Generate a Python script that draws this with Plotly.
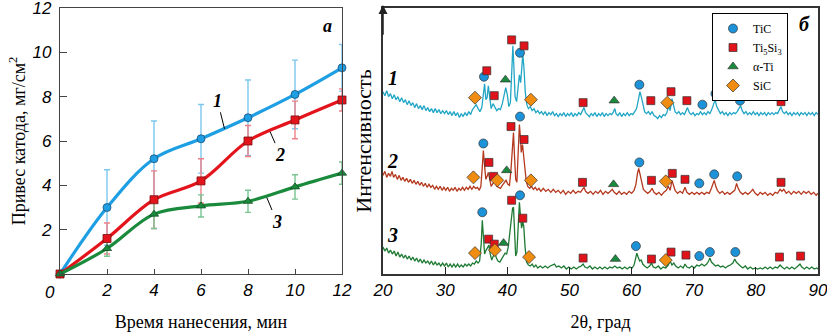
import plotly.graph_objects as go

# ---------------- Panel (a): cathode mass gain ----------------
time_min = [0, 2, 4, 6, 8, 10, 12]
mass_1 = [0, 3.0, 5.2, 6.1, 7.05, 8.1, 9.3]
err_1 = [0, 1.7, 1.7, 1.55, 1.7, 1.55, 1.05]
mass_2 = [0, 1.6, 3.35, 4.2, 6.0, 6.95, 7.85]
err_2 = [0, 0.7, 1.3, 1.0, 0.7, 0.85, 0.5]
mass_3 = [0, 1.15, 2.7, 3.07, 3.28, 3.93, 4.55]
err_3 = [0, 0.35, 0.65, 0.5, 0.5, 0.55, 0.5]
x_ticks_a = [2, 4, 6, 8, 10, 12]
y_ticks_a = [2, 4, 6, 8, 10, 12]

# ---------------- Panel (b): XRD patterns (2theta, intensity a.u.) ----------------
xrd_1 = [(20.0,183),(20.3,179),(20.6,184),(20.9,178),(21.2,181),(21.5,176),(21.8,180),(22.1,175),(22.4,178),(22.7,173),
 (23.0,177),(23.3,172),(23.6,175),(23.9,170),(24.2,174),(24.5,169),(24.8,172),(25.1,167),(25.4,171),(25.7,166),
 (26.0,169),(26.3,165),(26.6,169),(26.9,164),(27.2,167),(27.5,163),(27.8,166),(28.1,162),(28.4,166),(28.7,162),
 (29.0,165),(29.3,161),(29.6,164),(29.9,161),(30.2,164),(30.5,160),(30.8,163),(31.1,159),(31.4,163),(31.7,159),
 (32.0,162),(32.3,157),(32.6,161),(32.9,158),(33.2,162),(33.5,159),(33.8,163),(34.1,160),(34.4,165),(34.7,168),
 (35.0,170),(35.3,166),(35.6,163),(35.9,167),(36.15,182),(36.35,191),(36.55,175),(36.75,177),(36.95,189),(37.15,178),
 (37.4,166),(37.7,171),(38.0,168),(38.3,164),(38.6,166),(38.9,165),(39.2,171),(39.5,181),(39.75,187),(40.0,180),
 (40.25,168),(40.5,172),(40.75,205),(40.9,229),(41.05,210),(41.25,178),(41.5,173),(41.75,185),(41.95,200),(42.15,192),
 (42.35,212),(42.5,221),(42.7,205),(42.9,182),(43.15,170),(43.4,166),(43.7,168),(44.0,164),(44.3,166),(44.6,162),
 (44.9,164),(45.2,161),(45.5,163),(45.8,160),(46.1,163),(46.4,159),(46.7,162),(47.0,160),(47.3,163),(47.6,159),
 (47.9,161),(48.2,158),(48.5,161),(48.8,159),(49.1,162),(49.4,158),(49.7,161),(50.0,159),(50.3,162),(50.6,158),
 (50.9,161),(51.2,159),(51.5,162),(51.8,160),(52.1,164),(52.35,167),(52.6,162),(52.9,160),(53.2,158),(53.5,161),
 (53.8,159),(54.1,162),(54.4,158),(54.7,161),(55.0,159),(55.3,162),(55.6,158),(55.9,161),(56.2,159),(56.5,161),
 (56.8,160),(57.1,163),(57.3,166),(57.5,161),(57.8,159),(58.1,162),(58.4,158),(58.7,161),(59.0,159),(59.3,162),
 (59.6,159),(59.9,161),(60.2,160),(60.5,163),(60.8,166),(61.1,175),(61.35,183),(61.6,177),(61.85,168),(62.1,163),
 (62.4,161),(62.7,163),(63.0,160),(63.3,163),(63.6,159),(63.9,158),(64.2,156),(64.5,159),(64.8,157),(65.1,160),
 (65.4,159),(65.7,162),(65.95,169),(66.2,164),(66.5,176),(66.75,168),(67.0,163),(67.3,161),(67.6,163),(67.9,160),
 (68.2,162),(68.5,160),(68.8,164),(69.0,167),(69.3,162),(69.6,160),(69.9,162),(70.2,159),(70.5,161),(70.8,160),
 (71.1,163),(71.4,160),(71.7,162),(72.0,160),(72.3,163),(72.6,161),(72.9,165),(73.2,170),(73.45,175),(73.7,168),
 (74.0,164),(74.3,161),(74.6,163),(74.9,160),(75.2,162),(75.5,159),(75.8,162),(76.1,160),(76.4,162),(76.7,161),
 (77.0,163),(77.3,167),(77.55,169),(77.8,164),(78.1,161),(78.4,163),(78.7,160),(79.0,162),(79.3,160),(79.6,163),
 (79.9,160),(80.2,162),(80.5,159),(80.8,162),(81.1,160),(81.4,162),(81.7,159),(82.0,162),(82.3,160),(82.6,162),
 (82.9,160),(83.2,162),(83.5,161),(83.8,165),(84.05,168),(84.3,163),(84.6,161),(84.9,163),(85.2,160),(85.5,162),
 (85.8,159),(86.1,162),(86.4,160),(86.7,162),(87.0,159),(87.3,162),(87.6,160),(87.9,162),(88.2,159),(88.5,162),
 (88.8,160),(89.1,162),(89.4,159),(89.7,162),(90.0,160)]

xrd_2 = [(20.0,99),(20.3,103),(20.6,97),(20.9,101),(21.2,98),(21.45,103),(21.7,97),(22.0,100),(22.3,95),(22.6,99),
 (22.9,94),(23.2,97),(23.5,93),(23.8,96),(24.1,92),(24.4,95),(24.7,91),(25.0,94),(25.3,90),(25.6,93),
 (25.9,89),(26.2,92),(26.5,88),(26.8,91),(27.1,87),(27.4,90),(27.7,87),(28.0,89),(28.3,85),(28.6,88),
 (28.9,85),(29.2,88),(29.5,84),(29.8,87),(30.1,84),(30.4,87),(30.7,83),(31.0,86),(31.3,84),(31.6,87),
 (31.9,83),(32.2,86),(32.5,84),(32.8,87),(33.1,84),(33.4,87),(33.7,85),(34.0,88),(34.3,85),(34.6,88),
 (34.9,86),(35.2,87),(35.5,84),(35.75,88),(35.95,105),(36.15,124),(36.35,108),(36.55,95),(36.75,98),(36.95,102),
 (37.15,96),(37.4,88),(37.7,91),(38.0,93),(38.3,88),(38.6,87),(38.9,86),(39.2,89),(39.5,91),(39.8,94),
 (40.1,90),(40.35,89),(40.6,105),(40.85,135),(41.0,142),(41.15,120),(41.35,95),(41.55,92),(41.75,120),(41.95,150),
 (42.1,138),(42.25,122),(42.45,130),(42.65,118),(42.85,100),(43.05,93),(43.3,88),(43.6,86),(43.9,88),(44.2,85),
 (44.5,87),(44.8,84),(45.1,86),(45.4,83),(45.8,86),(46.2,83),(46.6,85),(47.0,82),(47.4,85),(47.8,82),
 (48.2,84),(48.6,81),(49.0,84),(49.4,80),(49.8,83),(50.2,81),(50.6,84),(51.0,81),(51.4,83),(51.8,82),
 (52.1,85),(52.35,87),(52.6,83),(53.0,81),(53.4,83),(53.8,80),(54.2,83),(54.6,81),(55.0,84),(55.4,80),
 (55.8,83),(56.2,81),(56.6,83),(56.9,85),(57.2,82),(57.6,80),(58.0,83),(58.4,80),(58.8,82),(59.2,80),
 (59.6,83),(60.0,81),(60.4,84),(60.7,90),(60.95,101),(61.15,106),(61.4,99),(61.65,90),(61.9,85),(62.2,83),
 (62.6,81),(63.0,83),(63.3,86),(63.6,82),(64.0,80),(64.4,82),(64.8,79),(65.2,82),(65.6,84),(65.9,88),
 (66.2,84),(66.5,94),(66.75,88),(67.0,84),(67.4,81),(67.8,83),(68.2,81),(68.6,87),(68.9,82),(69.3,80),
 (69.7,82),(70.1,80),(70.5,82),(70.9,80),(71.3,82),(71.7,80),(72.1,82),(72.5,81),(72.85,86),(73.1,92),
 (73.3,94),(73.55,88),(73.8,84),(74.2,81),(74.6,83),(75.0,80),(75.4,82),(75.8,80),(76.2,82),(76.6,84),
 (76.9,91),(77.15,86),(77.5,82),(77.9,80),(78.3,82),(78.7,80),(79.1,82),(79.5,85),(79.9,81),(80.3,79),
 (80.7,82),(81.1,80),(81.5,82),(81.9,79),(82.3,81),(82.7,79),(83.1,82),(83.5,81),(83.9,85),(84.2,83),
 (84.5,85),(84.9,81),(85.3,83),(85.7,80),(86.1,83),(86.5,81),(86.9,83),(87.3,80),(87.7,83),(88.1,81),
 (88.5,83),(88.9,80),(89.3,82),(89.7,79),(90.0,81)]

xrd_3 = [(20.0,27),(20.3,23),(20.6,26),(20.9,21),(21.2,24),(21.5,20),(21.8,23),(22.1,18),(22.4,22),(22.7,17),
 (23.0,20),(23.3,16),(23.6,19),(23.9,15),(24.2,18),(24.5,14),(24.8,17),(25.1,13),(25.4,16),(25.7,12),
 (26.0,15),(26.3,11),(26.6,14),(26.9,11),(27.2,13),(27.5,10),(27.8,13),(28.1,9),(28.4,12),(28.7,9),
 (29.0,11),(29.3,8),(29.6,11),(29.9,8),(30.2,11),(30.5,7),(30.8,10),(31.1,7),(31.4,10),(31.7,7),
 (32.0,10),(32.3,7),(32.6,9),(32.9,7),(33.2,10),(33.5,8),(33.8,10),(34.1,8),(34.4,11),(34.7,10),
 (35.0,13),(35.3,11),(35.55,13),(35.8,30),(35.98,54),(36.15,38),(36.35,20),(36.6,24),(36.85,27),(37.05,29),
 (37.25,20),(37.5,14),(37.75,18),(38.0,21),(38.25,16),(38.5,13),(38.8,12),(39.1,15),(39.4,19),(39.65,21),
 (39.9,20),(40.15,27),(40.35,38),(40.6,52),(40.85,66),(41.0,67),(41.15,45),(41.35,18),(41.55,22),(41.75,50),
 (41.95,72),(42.1,60),(42.3,46),(42.5,52),(42.65,48),(42.85,28),(43.1,12),(43.4,9),(43.7,8),(44.0,10),
 (44.3,7),(44.6,9),(44.9,6),(45.3,8),(45.7,6),(46.1,8),(46.5,6),(46.9,8),(47.3,9),(47.6,10),
 (47.9,7),(48.3,8),(48.7,6),(49.1,8),(49.5,5),(49.9,7),(50.3,5),(50.7,7),(51.1,5),(51.5,7),
 (51.9,8),(52.2,10),(52.5,7),(52.9,6),(53.3,8),(53.7,5),(54.1,7),(54.5,5),(54.9,7),(55.3,5),
 (55.7,7),(56.1,5),(56.5,7),(56.9,6),(57.3,8),(57.7,6),(58.1,7),(58.5,5),(58.9,7),(59.3,5),
 (59.7,7),(60.1,6),(60.4,9),(60.65,16),(60.85,21),(61.05,17),(61.3,13),(61.55,14),(61.8,10),(62.1,8),
 (62.5,6),(62.9,8),(63.2,11),(63.5,7),(63.9,6),(64.3,8),(64.7,5),(65.1,7),(65.5,6),(65.9,9),
 (66.2,13),(66.5,9),(66.8,11),(67.1,8),(67.5,6),(67.9,8),(68.3,6),(68.6,10),(68.9,7),(69.3,6),
 (69.7,8),(70.1,6),(70.5,9),(70.9,8),(71.3,10),(71.7,8),(72.1,10),(72.4,13),(72.6,16),(72.85,12),
 (73.1,10),(73.5,8),(73.9,9),(74.3,7),(74.7,8),(75.1,6),(75.5,8),(75.9,9),(76.3,11),(76.6,15),
 (76.85,12),(77.1,10),(77.5,8),(77.9,6),(78.3,8),(78.7,5),(79.1,7),(79.5,5),(79.9,6),(80.3,5),
 (80.7,6),(81.1,5),(81.5,7),(81.9,5),(82.3,7),(82.7,5),(83.1,7),(83.5,6),(83.9,9),(84.2,7),
 (84.6,5),(85.0,7),(85.4,5),(85.8,7),(86.2,5),(86.6,7),(87.1,10),(87.4,7),(87.8,5),(88.2,7),
 (88.6,5),(89.0,7),(89.4,5),(89.8,6),(90.0,5)]

# phase identification markers (2theta, intensity)
tic_pts = [(36.25,198),(42.05,222),(61.25,190),(71.4,170),(73.5,181),(77.45,174),
           (36.15,131),(42.05,158),(61.25,112),(70.9,91),(73.3,100),(77.0,98),
           (35.98,62),(42.05,79),(60.7,28),(70.9,18),(72.6,22),(76.7,22)]
ti5si3_pts = [(36.7,204),(40.7,235),(42.7,229),(37.9,179),(52.2,172),(63.1,174),(66.35,183),(68.9,174),(84.05,173),
              (37.05,112),(37.8,98),(40.6,148),(42.7,135),(52.1,92),(63.2,94),(66.55,101),(68.6,95),(84.05,92),
              (37.0,35),(37.9,30),(40.7,74),(42.5,56),(52.2,16),(63.2,15),(66.35,22),(68.75,19),(83.8,17),(87.2,18)]
ati_pts = [(39.7,195),(57.2,174),(39.9,104),(57.1,90),(39.4,31),(57.4,15)]
sic_pts = [(34.8,177),(43.8,175),(65.75,172),(34.55,97),(38.4,94),(43.8,94),(65.5,93),
           (34.8,21),(38.0,24),(43.5,17),(65.5,14)]
x_ticks_b = [20, 30, 40, 50, 60, 70, 80, 90]

SERIF = "Liberation Serif"
SANS = "Liberation Sans"

fig = go.Figure()

# ---- panel a: error bars (behind) then lines ----
series_a = [
    (mass_1, err_1, "#1f9fe3", "#7cc7ee", "circle", "#1b4f7a"),
    (mass_2, err_2, "#e3141c", "#ef8088", "square", "#7a1010"),
    (mass_3, err_3, "#1a8a3c", "#78c492", "triangle-up", "#124d24"),
]
for ys, es, col, ecol, sym, edge in series_a:
    fig.add_trace(go.Scatter(x=time_min, y=ys, mode="markers", xaxis="x", yaxis="y",
                             marker=dict(size=1, color="rgba(0,0,0,0)"),
                             error_y=dict(type="data", array=es, color=ecol, thickness=1.4, width=3),
                             showlegend=False, hoverinfo="skip", cliponaxis=False))
for ys, es, col, ecol, sym, edge in series_a:
    fig.add_trace(go.Scatter(x=time_min, y=ys, mode="lines+markers", xaxis="x", yaxis="y",
                             line=dict(color=col, width=3.2, shape="spline", smoothing=1.0),
                             marker=dict(symbol=sym, size=8, color=col, line=dict(color=edge, width=0.8)),
                             showlegend=False, cliponaxis=False))

# ---- panel b: spectra ----
for pts, col in [(xrd_1, "#22a6c6"), (xrd_2, "#b5391f"), (xrd_3, "#1f7a34")]:
    fig.add_trace(go.Scatter(x=[p[0] for p in pts], y=[p[1] for p in pts], mode="lines",
                             xaxis="x2", yaxis="y2", line=dict(color=col, width=1.3),
                             showlegend=False))

phases = [
    ("TiC", tic_pts, "circle", "#1c93d9", 9),
    ("Ti<sub>5</sub>Si<sub>3</sub>", ti5si3_pts, "square", "#e0121a", 8),
    ("α-Ti", ati_pts, "triangle-up", "#1a8a3c", 9),
    ("SiC", sic_pts, "diamond", "#f08c10", 10),
]
for name, pts, sym, col, sz in phases:
    fig.add_trace(go.Scatter(x=[p[0] for p in pts], y=[p[1] for p in pts], mode="markers",
                             xaxis="x2", yaxis="y2", name=name,
                             marker=dict(symbol=sym, size=sz, color=col, line=dict(color="#333333", width=0.7)),
                             cliponaxis=False))

W, H = 827, 333
tick_font = dict(family=SANS, size=17, color="black", style="italic")
title_font = dict(family=SERIF, size=18, color="black")

fig.update_layout(
    width=W, height=H, margin=dict(l=0, r=0, t=8, b=59, autoexpand=False),
    paper_bgcolor="white", plot_bgcolor="white",
    showlegend=True,
    legend=dict(x=788 / W, xanchor="right", y=(274 - 13) / 266, yanchor="top",
                bordercolor="black", borderwidth=1, bgcolor="white",
                font=dict(family=SERIF, size=12, color="black"), tracegroupgap=0,
                itemwidth=30),
    xaxis=dict(domain=[60 / W, 342 / W], range=[0, 12], tickvals=x_ticks_a,
               ticks="inside", ticklen=5, tickcolor="#444", showgrid=False, zeroline=False,
               showline=True, linecolor="#444", linewidth=1.3, mirror=True,
               tickfont=tick_font, anchor="y", automargin=False, ticklabeloverflow="allow",
               title=dict(text="Время нанесения, мин", font=title_font, standoff=16)),
    yaxis=dict(range=[0, 12], tickvals=y_ticks_a, ticks="inside", ticklen=7, tickcolor="#444",
               showgrid=False, zeroline=False, showline=True, linecolor="#444", linewidth=1.3,
               mirror=True, tickfont=tick_font, anchor="x", ticklabelstandoff=4, automargin=False,
               ticklabeloverflow="allow",
               title=dict(text="Привес катода, мг/см<sup>2</sup>", font=title_font, standoff=2)),
    xaxis2=dict(domain=[383 / W, 818 / W], range=[20, 90], tickvals=x_ticks_b,
                ticks="inside", ticklen=7, tickcolor="#222", showgrid=False, zeroline=False,
                showline=True, linecolor="#333", linewidth=1.5, mirror=True,
                tickfont=tick_font, anchor="y2", automargin=False, ticklabeloverflow="allow",
                title=dict(text="2θ, град", font=title_font, standoff=16)),
    yaxis2=dict(range=[0, 267], showticklabels=False, ticks="", showgrid=False, zeroline=False,
                showline=True, linecolor="#333", linewidth=1.5, mirror=True, anchor="x2",
                automargin=False,
                title=dict(text="Интенсивность", font=dict(family=SERIF, size=22, color="black"),
                           standoff=4)),
)

annos = [
    # panel a curve labels with leader lines
    dict(x=7.0, y=6.55, xref="x", yref="y", text="<b><i>1</i></b>", ax=-7, ay=-28),
    dict(x=8.94, y=6.42, xref="x", yref="y", text="<b><i>2</i></b>", ax=10, ay=23),
    dict(x=8.8, y=3.45, xref="x", yref="y", text="<b><i>3</i></b>", ax=10, ay=24),
]
for a in annos:
    fig.add_annotation(**a, showarrow=True, arrowhead=0, arrowwidth=1, arrowcolor="black",
                       font=dict(family=SERIF, size=18, color="black"))

fig.add_annotation(x=0, y=0, xref="x", yref="y", text="0", showarrow=False,
                   xshift=-10, yshift=-7, yanchor="top", font=tick_font)
fig.add_annotation(x=11.4, y=11.2, xref="x", yref="y", text="<b><i>а</i></b>", showarrow=False,
                   font=dict(family=SERIF, size=18, color="black"))
fig.add_annotation(x=87.9, y=251, xref="x2", yref="y2", text="<b><i>б</i></b>", showarrow=False,
                   font=dict(family=SERIF, size=20, color="black"))
for lab, yv in [("1", 197), ("2", 113), ("3", 39)]:
    fig.add_annotation(x=21.6, y=yv, xref="x2", yref="y2", text=f"<b><i>{lab}</i></b>",
                       showarrow=False, font=dict(family=SERIF, size=20, color="black"))

# arrow head on intensity axis
fig.add_annotation(x=20, y=270, xref="x2", yref="y2", ax=20, ay=230, axref="x2", ayref="y2",
                   text=" ", showarrow=True, arrowhead=2, arrowsize=1.2, arrowwidth=1.5,
                   arrowcolor="#222", standoff=0)

fig.write_html("out.html")
